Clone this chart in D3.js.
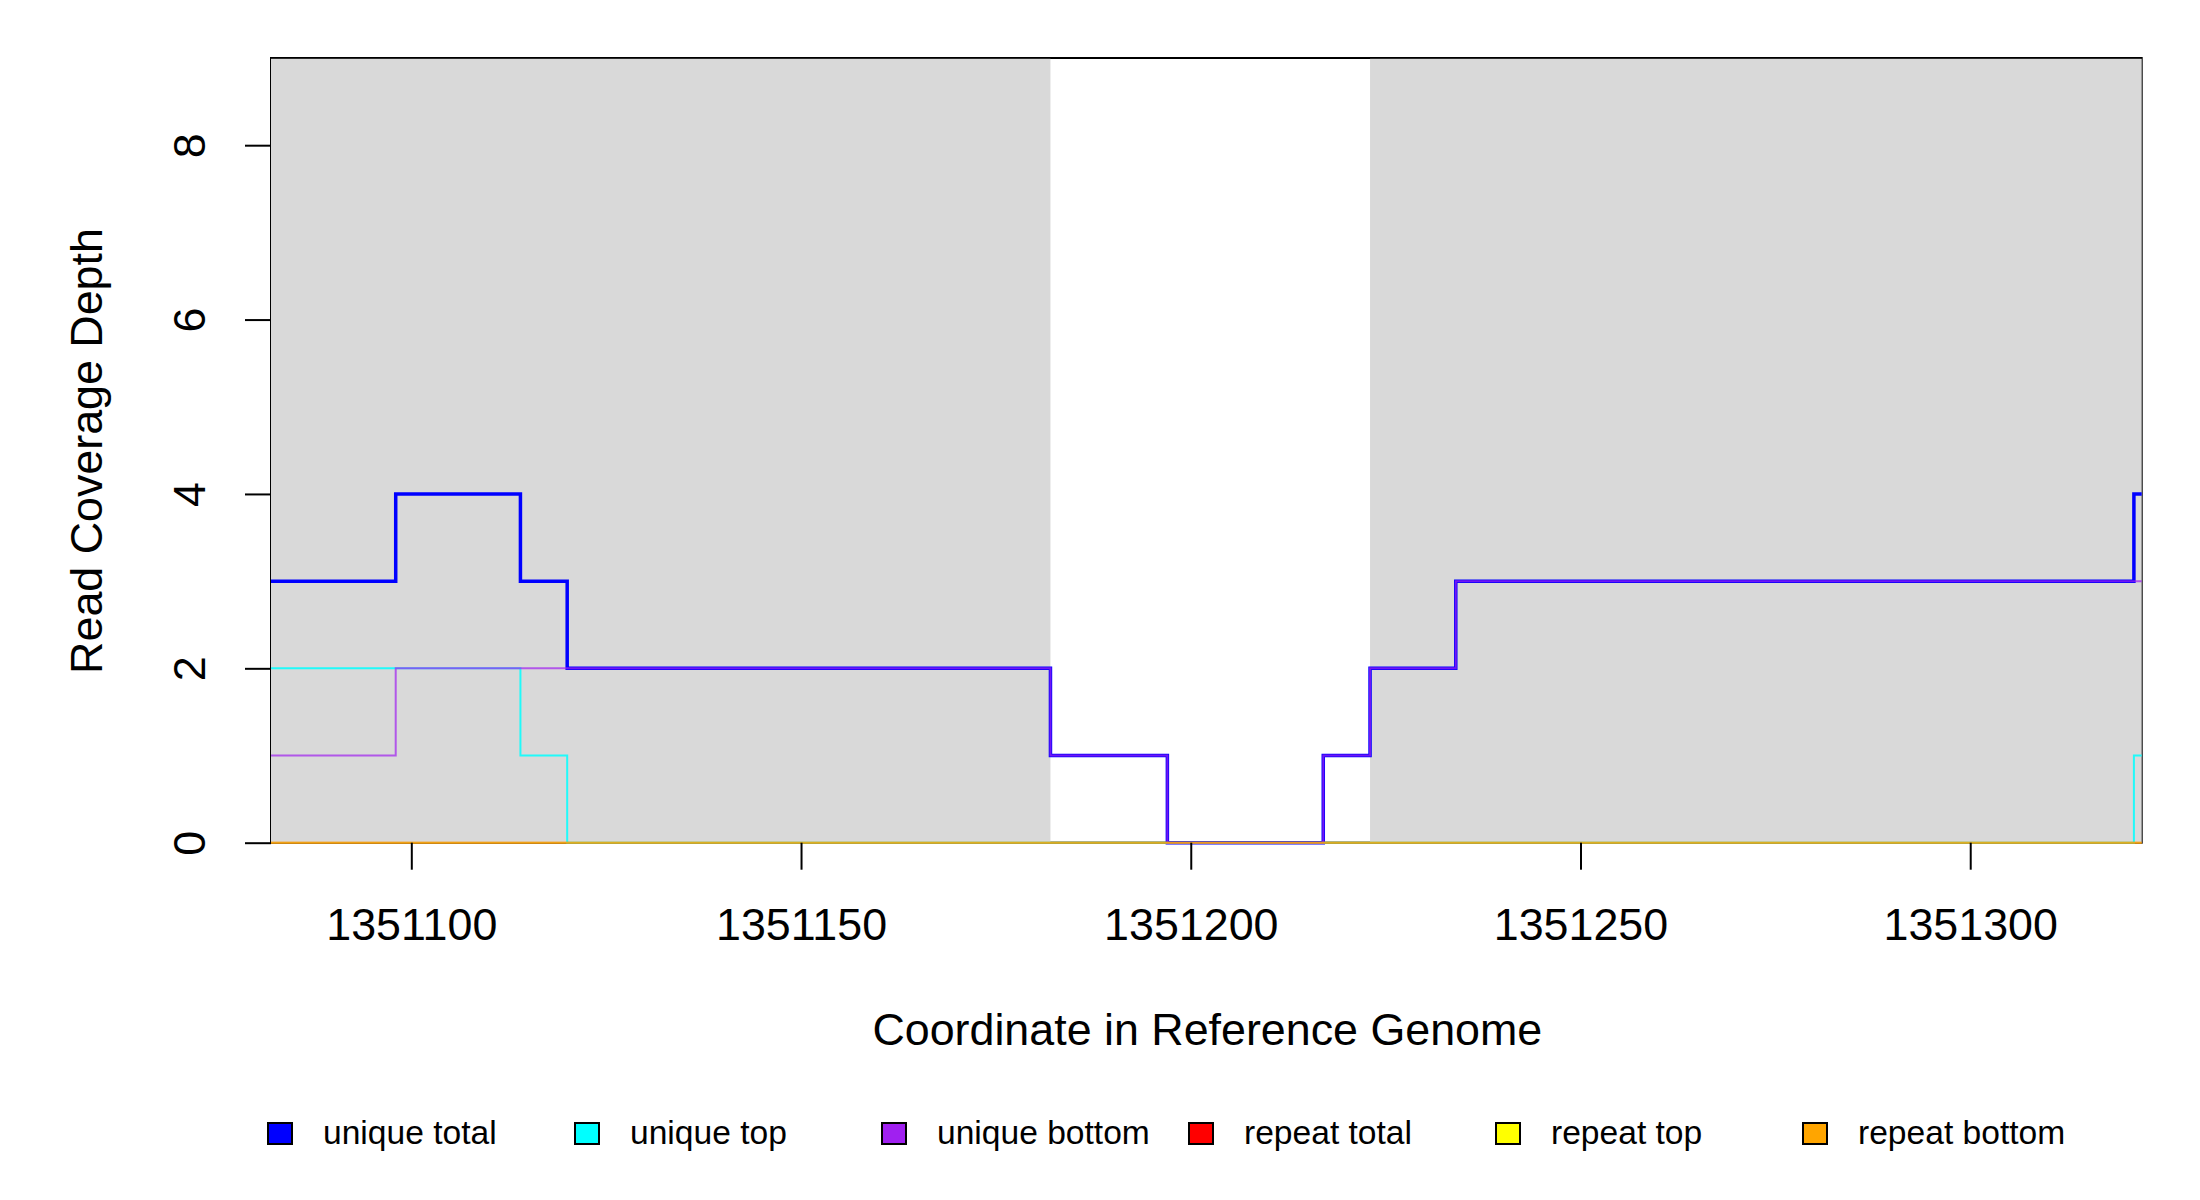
<!DOCTYPE html>
<html>
<head>
<meta charset="utf-8">
<script src="https://cdn.jsdelivr.net/npm/d3@7"></script>
<style>
  body { margin: 0; background: #fff; }
  text { font-family: "Liberation Sans", Arial, sans-serif; fill: #000; }
</style>
</head>
<body>
<div id="chart"></div>
<script>
// Breakpoints along the genome (each value holds until the next breakpoint)
const positions = [1351082, 1351098, 1351114, 1351120, 1351182, 1351197, 1351217, 1351223, 1351234, 1351321, 1351322]
const uniqueTotal = [3, 4, 3, 2, 1, 0, 1, 2, 3, 4, 4]
const uniqueTop = [2, 2, 1, 0, 0, 0, 0, 0, 0, 1, 1]
const uniqueBottom = [1, 2, 2, 2, 1, 0, 1, 2, 3, 3, 3]
const repeatTotal = [0, 0, 0, 0, 0, 0, 0, 0, 0, 0, 0]
const repeatTop = [0, 0, 0, 0, 0, 0, 0, 0, 0, 0, 0]
const repeatBottom = [0, 0, 0, 0, 0, 0, 0, 0, 0, 0, 0]

// Shaded regions
const regionStarts = [1351082, 1351223]
const regionEnds = [1351182, 1351322]

const xTicks = [1351100, 1351150, 1351200, 1351250, 1351300]
const yTicks = [0, 2, 4, 6, 8]

const legendLabels = ['unique total', 'unique top', 'unique bottom', 'repeat total', 'repeat top', 'repeat bottom']
const legendColors = ['#0000FF', '#00FFFF', '#A020F0', '#FF0000', '#FFFF00', '#FFA500']

const width = 2200
const height = 1200
const plotLeft = 271
const plotRight = 2141.7
const plotTop = 58
const plotBottom = 842.7
const bigFont = 44.8

const svg = d3.select('#chart')
    .append('svg')
    .attr('width', width)
    .attr('height', height)

const xScale = d3.scaleLinear()
    .domain([1351082, 1351322])
    .range([plotLeft, plotRight])
const yScale = d3.scaleLinear()
    .domain([0, 9])
    .range([plotBottom, plotTop])

// Box
svg.append('rect')
    .attr('x', plotLeft)
    .attr('y', plotTop)
    .attr('width', plotRight - plotLeft)
    .attr('height', plotBottom - plotTop)
    .attr('fill', 'none')
    .attr('stroke', '#000')
    .attr('stroke-width', 2)

// Shaded regions
svg.selectAll('rect.region')
    .data(regionStarts)
    .enter()
    .append('rect')
    .attr('class', 'region')
    .attr('x', d => xScale(d))
    .attr('y', yScale(9) + 0.8)
    .attr('width', (d, i) => xScale(regionEnds[i]) - xScale(d))
    .attr('height', yScale(0) - yScale(9) - 0.8)
    .attr('fill', '#D9D9D9')

// Step lines
const line = d3.line()
    .x(d => xScale(d[0]))
    .y(d => yScale(d[1]))
    .curve(d3.curveStepAfter)

const series = [
    { values: uniqueTotal, color: legendColors[0], w: 3.5, o: 1 },
    { values: uniqueTop, color: legendColors[1], w: 2, o: 0.85 },
    { values: uniqueBottom, color: legendColors[2], w: 2, o: 0.7 },
    { values: repeatTotal, color: legendColors[3], w: 2, o: 0.4 },
    { values: repeatTop, color: legendColors[4], w: 2, o: 0.4 },
    { values: repeatBottom, color: legendColors[5], w: 2, o: 0.6 }
]

svg.selectAll('path.series')
    .data(series)
    .enter()
    .append('path')
    .attr('class', 'series')
    .attr('d', s => line(positions.map((p, i) => [p, s.values[i]])))
    .attr('fill', 'none')
    .attr('stroke', s => s.color)
    .attr('stroke-width', s => s.w)
    .attr('stroke-opacity', s => s.o)

// X axis
const xAxis = d3.axisBottom(xScale)
    .tickValues(xTicks)
    .tickSize(27)
    .tickFormat(d3.format('d'))
const gx = svg.append('g')
    .attr('transform', `translate(0, ${plotBottom})`)
    .call(xAxis)
gx.select('.domain').remove()
gx.selectAll('.tick line').attr('stroke', '#000').attr('stroke-width', 2)
gx.selectAll('.tick text')
    .attr('y', 97)
    .attr('dy', null)
    .attr('font-size', bigFont)
    .attr('font-family', '"Liberation Sans", Arial, sans-serif')
    .attr('fill', '#000')

// Y axis
const yAxis = d3.axisLeft(yScale)
    .tickValues(yTicks)
    .tickSize(26)
const gy = svg.append('g')
    .attr('transform', `translate(${plotLeft}, 0)`)
    .call(yAxis)
gy.select('.domain').remove()
gy.selectAll('.tick line').attr('stroke', '#000').attr('stroke-width', 2)
gy.selectAll('.tick text')
    .attr('x', 0)
    .attr('y', -66)
    .attr('dy', null)
    .attr('transform', 'rotate(-90)')
    .attr('text-anchor', 'middle')
    .attr('font-size', bigFont)
    .attr('font-family', '"Liberation Sans", Arial, sans-serif')
    .attr('fill', '#000')

// Axis titles
svg.append('text')
    .attr('x', (plotLeft + plotRight) / 2 + 1)
    .attr('y', 1045)
    .attr('text-anchor', 'middle')
    .attr('font-size', bigFont)
    .text('Coordinate in Reference Genome')

svg.append('text')
    .attr('transform', 'translate(101.5, 451) rotate(-90)')
    .attr('text-anchor', 'middle')
    .attr('font-size', bigFont)
    .text('Read Coverage Depth')

// Legend
const legend = svg.selectAll('g.legend')
    .data(legendLabels)
    .enter()
    .append('g')
    .attr('class', 'legend')
    .attr('transform', (d, i) => `translate(${268 + i * 307}, 0)`)
legend.append('rect')
    .attr('x', 0)
    .attr('y', 1123)
    .attr('width', 24)
    .attr('height', 21)
    .attr('fill', (d, i) => legendColors[i])
    .attr('stroke', '#000')
    .attr('stroke-width', 2)
legend.append('text')
    .attr('x', 55)
    .attr('y', 1144)
    .attr('font-size', 33.6)
    .text(d => d)
</script>
</body>
</html>
